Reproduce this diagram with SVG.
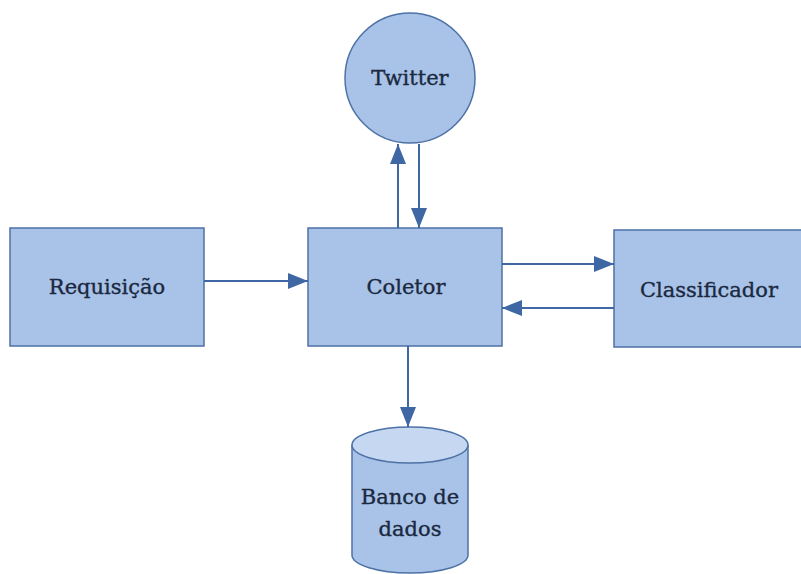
<svg xmlns="http://www.w3.org/2000/svg" width="801" height="574" viewBox="0 0 801 574">
<style>
.n{fill:#a9c2e8;stroke:#4d72a6;stroke-width:1.5}
.t{font-family:"DejaVu Serif","Liberation Serif",serif;font-size:21px;fill:#1a2940;stroke:#1a2940;stroke-width:0.35;text-anchor:middle}
.c{stroke:#3e67a3;stroke-width:2;fill:none;marker-end:url(#a)}
</style>
<defs>
<marker id="a" viewBox="0 0 20 16" refX="20" refY="8" markerWidth="20" markerHeight="16" markerUnits="userSpaceOnUse" orient="auto">
<path d="M0,0 L20,8 L0,16 Z" fill="#3e67a3"/>
</marker>
</defs>
<rect width="801" height="574" fill="#fff"/>
<g id="twitter"><circle class="n" cx="410" cy="78" r="65"/><text class="t" x="410" y="85">Twitter</text></g>
<g id="requisicao"><rect class="n" x="10" y="228" width="194" height="118"/><text class="t" x="107" y="294">Requisição</text></g>
<g id="coletor"><rect class="n" x="308" y="228" width="194" height="118"/><text class="t" x="406" y="294">Coletor</text></g>
<g id="classificador"><rect class="n" x="614" y="230" width="194" height="117"/><text class="t" x="709" y="297">Classificador</text></g>
<g id="banco"><path class="n" d="M352,445 L352,555 A58,18 0 0 0 468,555 L468,445"/><ellipse cx="410" cy="445" rx="58" ry="18" fill="#c6d7f1" stroke="#4d72a6" stroke-width="1.5"/><text class="t" x="410" y="504">Banco de</text><text class="t" x="410" y="536">dados</text></g>
<g id="connectors">
<path class="c" d="M398,228 L398,144"/>
<path class="c" d="M419,144 L419,228"/>
<path class="c" d="M204,281 L308,281"/>
<path class="c" d="M502,264 L614,264"/>
<path class="c" d="M614,308 L502,308"/>
<path class="c" d="M408,346 L408,427"/>
</g>
</svg>
